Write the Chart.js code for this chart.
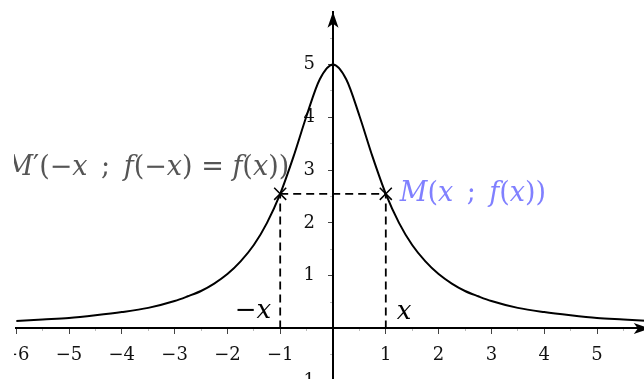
<!DOCTYPE html>
<html>
<head>
<meta charset="utf-8">
<script src="https://cdn.jsdelivr.net/npm/chart.js@4.4.1/dist/chart.umd.min.js"></script>
<style>
  html, body { margin: 0; padding: 0; background: #fff; overflow: hidden; }
  #frame { position: absolute; left: 14px; top: 0; width: 630px; height: 379px; overflow: hidden; }
  #graph { position: absolute; left: -40px; top: -20px; }
</style>
</head>
<body>
<div id="frame"><canvas id="graph" width="720" height="460"></canvas></div>
<script>
// courbe de f, lue point par point
const curveX = [-6, -5.5, -5, -4.5, -4, -3.5, -3, -2.75, -2.5, -2.25, -2, -1.75, -1.5, -1.25, -1, -0.75, -0.5, -0.25, 0,
                0.25, 0.5, 0.75, 1, 1.25, 1.5, 1.75, 2, 2.25, 2.5, 2.75, 3, 3.5, 4, 4.5, 5, 5.5, 6];
const curveY = [0.14, 0.17, 0.2, 0.25, 0.31, 0.39, 0.52, 0.61, 0.71, 0.85, 1.03, 1.27, 1.58, 2.0, 2.55, 3.25, 4.03, 4.72, 5,
                4.72, 4.03, 3.25, 2.55, 2.0, 1.58, 1.27, 1.03, 0.85, 0.71, 0.61, 0.52, 0.39, 0.31, 0.25, 0.2, 0.17, 0.14];

// points M' et M
const pointsX = [-1, 1];
const pointsY = [2.55, 2.55];

// bornes des axes
const xRange = [-6, 6];
const yRange = [-1.3, 6];
const hiddenTicks = [0, 6];

const FONT = '"DejaVu Serif"';

function tickLabel(v) {
  if (hiddenTicks.includes(v)) return '';
  return v < 0 ? '\u2212' + Math.abs(v) : String(v);
}

// texte mathématique : morceaux [texte, italique]
function drawMath(ctx, parts, x, y, align, size, color) {
  const fontOf = (it) => (it ? 'italic ' : '') + size + 'px ' + FONT;
  let total = 0;
  parts.forEach(([t, it]) => { ctx.font = fontOf(it); total += ctx.measureText(t).width; });
  let cx = align === 'right' ? x - total : x;
  ctx.fillStyle = color;
  ctx.textBaseline = 'middle';
  ctx.textAlign = 'left';
  parts.forEach(([t, it]) => {
    ctx.font = fontOf(it);
    ctx.fillText(t, cx, y);
    cx += ctx.measureText(t).width;
  });
}

function arrowHead(ctx, x, y, dir) {
  ctx.save();
  ctx.translate(x, y);
  if (dir === 'right') ctx.rotate(Math.PI / 2);
  ctx.beginPath();
  ctx.moveTo(0, 0);
  ctx.lineTo(5.5, 16);
  ctx.lineTo(0, 12);
  ctx.lineTo(-5.5, 16);
  ctx.closePath();
  ctx.fillStyle = '#000';
  ctx.fill();
  ctx.restore();
}

const SEP = '\u2002;\u2002';

const decorations = {
  id: 'decorations',
  afterDraw(chart) {
    const ctx = chart.ctx;
    const sx = chart.scales.x, sy = chart.scales.y;

    arrowHead(ctx, sx.getPixelForValue(xRange[1]), sy.getPixelForValue(0), 'right');
    arrowHead(ctx, sx.getPixelForValue(0), sy.getPixelForValue(yRange[1]), 'up');

    const xl = sx.getPixelForValue(pointsX[0]);
    const xr = sx.getPixelForValue(pointsX[1]);
    const yp = sy.getPixelForValue(pointsY[0]);
    const y0 = sy.getPixelForValue(0);

    drawMath(ctx, [['M', 1], ['\u2032', 0], ['(', 0], ['\u2212', 0], ['x', 1], [SEP, 0], ['f', 1], ['(', 0],
      ['\u2212', 0], ['x', 1], [')', 0], [' = ', 0], ['f', 1], ['(', 0], ['x', 1], ['))', 0]],
      xl + 9, yp - 26, 'right', 27, '#555');
    drawMath(ctx, [['M', 1], ['(', 0], ['x', 1], [SEP, 0], ['f', 1], ['(', 0], ['x', 1], ['))', 0]],
      xr + 14, yp, 'left', 27, '#8080ff');

    drawMath(ctx, [['\u2212', 0], ['x', 1]], xl - 9, y0 - 17, 'right', 26, '#000');
    drawMath(ctx, [['x', 1]], xr + 11, y0 - 16, 'left', 26, '#000');
  }
};

const majorColor = (c) => (c.tick && hiddenTicks.includes(c.tick.value)) ? 'rgba(0,0,0,0)' : '#444';
const minorColor = (c) => (c.tick && Number.isInteger(c.tick.value)) ? 'rgba(0,0,0,0)' : '#bbb';

const dashStyle = { borderColor: '#000', borderWidth: 1.8, borderDash: [8, 5], pointRadius: 0 };

new Chart(document.getElementById('graph'), {
  type: 'line',
  data: {
    datasets: [
      {
        data: curveX.map((x, i) => ({ x: x, y: curveY[i] })),
        borderColor: '#000',
        borderWidth: 2,
        pointRadius: 0,
        cubicInterpolationMode: 'monotone'
      },
      Object.assign({ data: [{ x: pointsX[0], y: pointsY[0] }, { x: pointsX[1], y: pointsY[1] }] }, dashStyle),
      Object.assign({ data: [{ x: pointsX[0], y: 0 }, { x: pointsX[0], y: pointsY[0] }] }, dashStyle),
      Object.assign({ data: [{ x: pointsX[1], y: 0 }, { x: pointsX[1], y: pointsY[1] }] }, dashStyle),
      {
        data: pointsX.map((x, i) => ({ x: x, y: pointsY[i] })),
        showLine: false,
        pointStyle: 'crossRot',
        pointRadius: 8.5,
        borderColor: '#000',
        borderWidth: 1.5
      }
    ]
  },
  options: {
    responsive: false,
    animation: false,
    layout: { padding: { left: 42.2, right: 44.2, top: 31.7, bottom: 42.9 } },
    plugins: { legend: { display: false }, tooltip: { enabled: false } },
    scales: {
      x: {
        type: 'linear', position: { y: 0 }, min: xRange[0], max: xRange[1],
        grid: { drawOnChartArea: false, tickLength: 5, tickColor: majorColor },
        border: { color: '#000', width: 2 },
        ticks: { stepSize: 1, includeBounds: false, padding: 11, color: '#111',
                 font: { family: 'DejaVu Serif', size: 18 }, callback: tickLabel, maxRotation: 0, autoSkip: false }
      },
      y: {
        type: 'linear', position: { x: 0 }, min: yRange[0], max: yRange[1],
        grid: { drawOnChartArea: false, tickLength: 4, tickColor: majorColor },
        border: { color: '#000', width: 2 },
        // l'étiquette est alignée sur l'axe : un cadratin la décale à gauche
        ticks: { stepSize: 1, includeBounds: false, color: '#111',
                 font: { family: 'DejaVu Serif', size: 18 },
                 callback: (v) => { const t = tickLabel(v); return t ? t + '\u2003' : ''; }, autoSkip: false }
      },
      xm: {
        type: 'linear', axis: 'x', position: { y: 0 }, min: xRange[0], max: xRange[1],
        grid: { drawOnChartArea: false, tickLength: 3, tickColor: minorColor },
        border: { display: false },
        ticks: { stepSize: 0.5, display: false, autoSkip: false }
      },
      ym: {
        type: 'linear', axis: 'y', position: { x: 0 }, min: yRange[0], max: yRange[1],
        grid: { drawOnChartArea: false, tickLength: 3, tickColor: minorColor },
        border: { display: false },
        ticks: { stepSize: 0.5, display: false, autoSkip: false }
      }
    }
  },
  plugins: [decorations]
});
</script>
</body>
</html>
